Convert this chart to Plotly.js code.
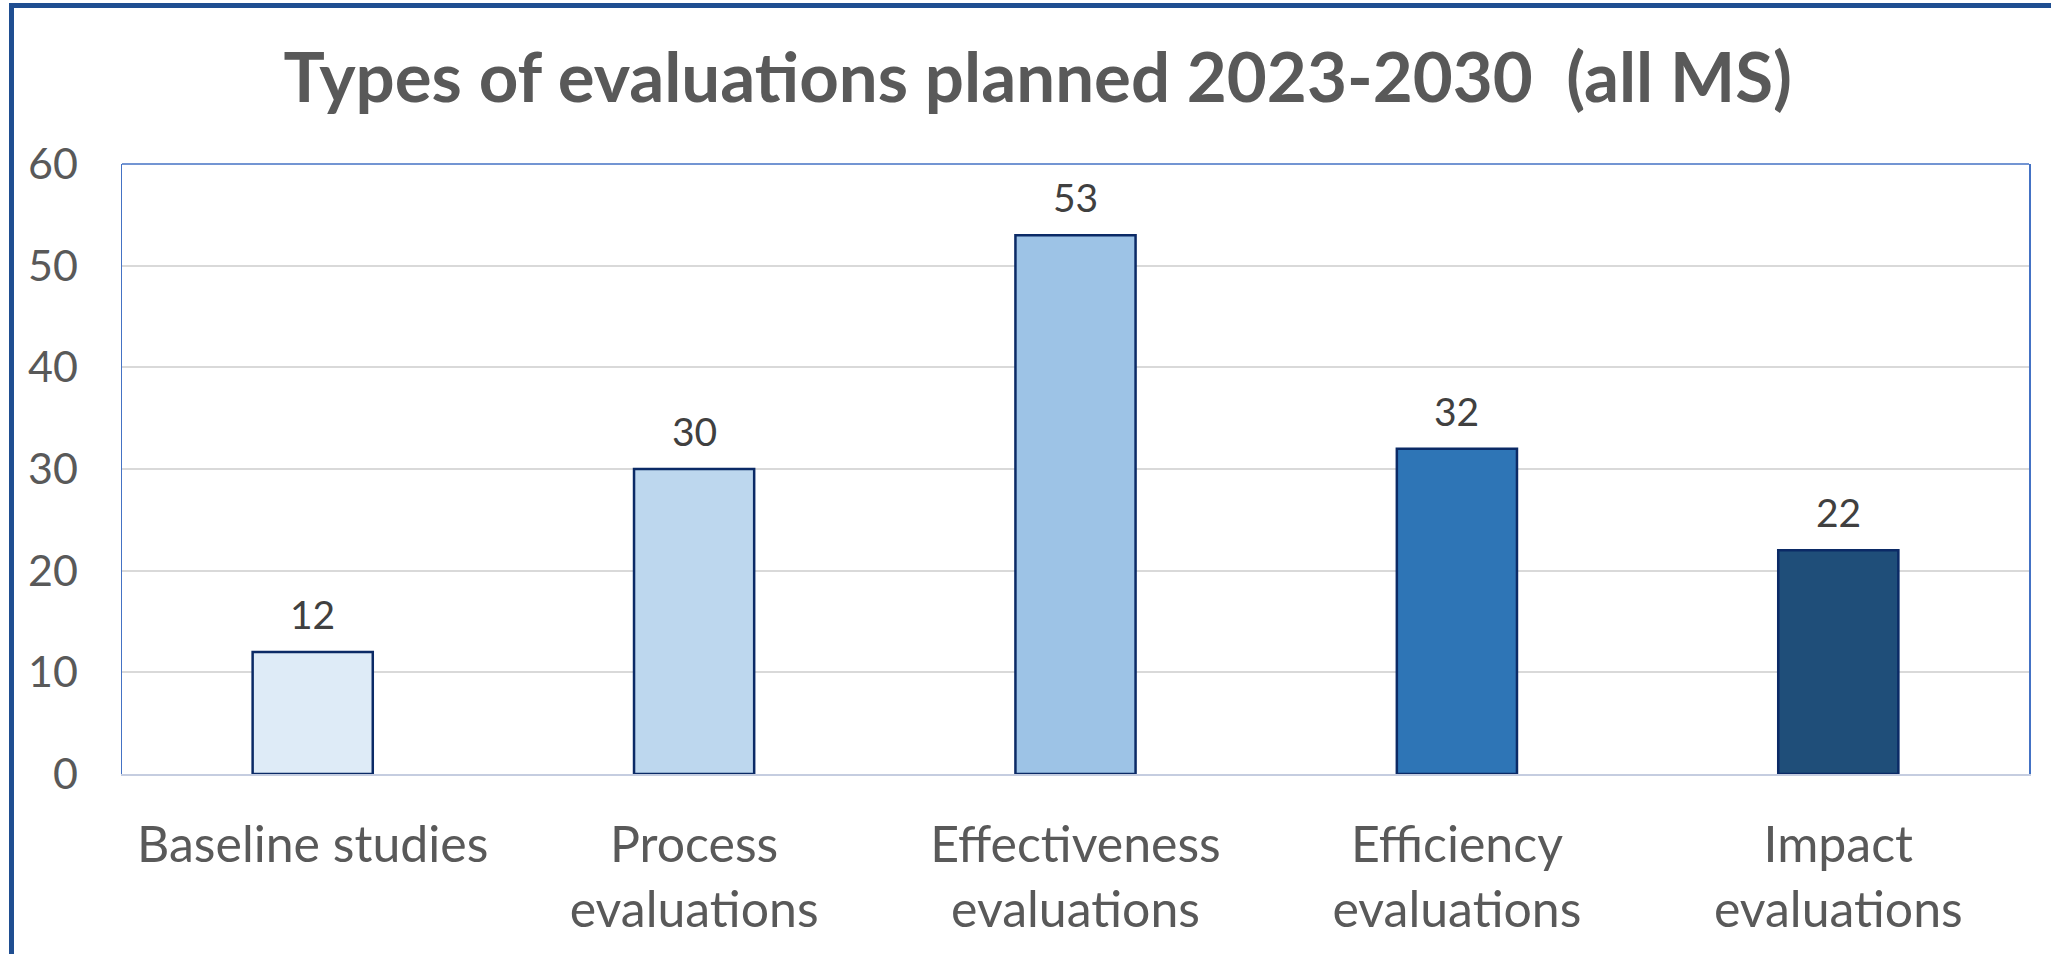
<!DOCTYPE html>
<html>
<head>
<meta charset="utf-8">
<script src="https://cdn.plot.ly/plotly-3.0.1.min.js"></script>
<style>
  html, body { margin: 0; padding: 0; background: #ffffff; }
  #chart { width: 2051px; height: 954px; }
</style>
</head>
<body>
<div id="chart"></div>
<script>
// ---- data ----
const categories = [
  "Baseline studies",
  "Process<br>evaluations",
  "Effectiveness<br>evaluations",
  "Efficiency<br>evaluations",
  "Impact<br>evaluations"
];
const values = [12, 30, 53, 32, 22];
const barColors = ["#DEEBF7", "#BDD7EE", "#9DC3E6", "#2E75B6", "#1F4E79"];
const yTickVals = [0, 10, 20, 30, 40, 50, 60];
const titleText = "Types of evaluations planned 2023-2030&nbsp; (all MS)";

// ---- layout geometry ----
const W = 2051, H = 954;
const M = { l: 122, r: 22, t: 164, b: 180 };
const plotW = W - M.l - M.r, plotH = H - M.t - M.b;
const px2x = px => (px - M.l) / plotW;
const py2y = py => (H - M.b - py) / plotH;

const FONT = "Lato, 'Open Sans', 'DejaVu Sans', sans-serif";

const trace = {
  type: "bar",
  x: categories,
  y: values,
  marker: {
    color: barColors,
    line: { color: "#0B2A66", width: 2.5 }
  },
  hoverinfo: "none",
  cliponaxis: false
};

const annotations = categories.map((c, i) => ({
  x: c, y: values[i], xref: "x", yref: "y",
  text: String(values[i]),
  showarrow: false,
  yanchor: "bottom",
  yshift: 13,
  font: { family: FONT, size: 39, color: "#404040" }
}));

const layout = {
  width: W, height: H,
  margin: M,
  paper_bgcolor: "#ffffff",
  plot_bgcolor: "#ffffff",
  showlegend: false,
  bargap: 0.685,
  title: {
    text: titleText,
    font: { family: FONT, size: 69, color: "#595959", weight: "bold" },
    xref: "container", yref: "container",
    x: 0.506, xanchor: "center",
    y: 1 - 78 / H, yanchor: "middle"
  },
  xaxis: {
    type: "category",
    showgrid: false,
    zeroline: false,
    showline: true,
    linecolor: "#C5CDE0",
    linewidth: 2,
    ticks: "",
    ticklabelstandoff: 26,
    tickfont: { family: FONT, size: 50, color: "#595959" },
    fixedrange: true
  },
  yaxis: {
    range: [0, 60],
    tickvals: yTickVals,
    showgrid: true,
    gridcolor: "#D9D9D9",
    gridwidth: 2,
    zeroline: false,
    showline: true,
    mirror: true,
    linecolor: "#4472C4",
    linewidth: 1.5,
    ticks: "",
    ticklabelstandoff: 34,
    tickfont: { family: FONT, size: 43, color: "#595959" },
    fixedrange: true
  },
  annotations: annotations,
  shapes: [
    // top border of plot area
    { type: "line", xref: "paper", yref: "paper", x0: 0, x1: 1, y0: 1, y1: 1,
      line: { color: "#4472C4", width: 1.5 } },
    // outer frame: left edge
    { type: "line", xref: "paper", yref: "paper",
      x0: px2x(11.5), x1: px2x(11.5), y0: py2y(3), y1: py2y(H + 5),
      line: { color: "#1F4E91", width: 5 } },
    // outer frame: top edge
    { type: "line", xref: "paper", yref: "paper",
      x0: px2x(9), x1: px2x(W + 5), y0: py2y(5.5), y1: py2y(5.5),
      line: { color: "#1F4E91", width: 5 } }
  ]
};

Plotly.newPlot("chart", [trace], layout, { staticPlot: true, displayModeBar: false });
</script>
</body>
</html>
